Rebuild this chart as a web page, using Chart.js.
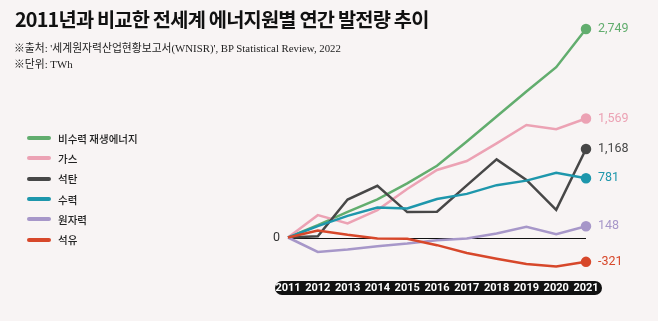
<!DOCTYPE html>
<html>
<head>
<meta charset="utf-8">
<script src="https://cdn.jsdelivr.net/npm/chart.js@4/dist/chart.umd.min.js"></script>
<style>
  html, body { margin: 0; padding: 0; background: #f8f4f4; }
  #wrap { position: relative; width: 658px; height: 321px; overflow: hidden; background: #f8f4f4; }
  #c { position: absolute; left: 0; top: 0; }
  #title { position: absolute; left: 15px; top: 4px; font-family: "Noto Sans CJK KR", sans-serif; font-weight: 700; font-size: 19.8px; letter-spacing: -0.8px; color: #111; white-space: nowrap; }
  .src { position: absolute; left: 14px; font-family: "Liberation Serif", "Noto Sans CJK KR", serif; font-size: 10.8px; color: #222; white-space: nowrap; }
  #legend { position: absolute; left: 27px; top: 128px; font-family: "Noto Sans CJK KR", sans-serif; font-size: 10.5px; font-weight: 500; color: #222; }
  .li { height: 20.3px; display: flex; align-items: center; }
  .sw { width: 24px; height: 4px; border-radius: 2px; margin-right: 7px; }
</style>
</head>
<body>
<div id="wrap">
  <canvas id="c" width="658" height="321"></canvas>
  <div id="title">2011년과 비교한 전세계 에너지원별 연간 발전량 추이</div>
  <div class="src" style="top:39px">※출처: '세계원자력산업현황보고서(WNISR)', BP Statistical Review, 2022</div>
  <div class="src" style="top:55px">※단위: TWh</div>
  <div id="legend"></div>
</div>
<script>
const years = ['2011','2012','2013','2014','2015','2016','2017','2018','2019','2020','2021'];
const seriesNames = ['비수력 재생에너지','가스','석탄','수력','원자력','석유'];
const renewables = [0, 163, 339, 502, 713, 945, 1265, 1595, 1925, 2246, 2749];
const gas        = [0, 295, 185, 361, 640, 890, 1008, 1242, 1483, 1427, 1569];
const coal       = [0, 15, 500, 682, 335, 339, 687, 1030, 760, 365, 1168];
const hydro      = [0, 150, 285, 394, 383, 508, 575, 690, 750, 853, 781];
const nuclear    = [0, -190, -158, -114, -80, -35, -12, 53, 141, 42, 148];
const oil        = [0, 92, 35, -13, -18, -101, -205, -280, -350, -383, -321];
const colors = ['#62ad6e', '#eca2b4', '#474747', '#1e97ac', '#a797c9', '#d7472a'];

const seriesData = [renewables, gas, coal, hydro, nuclear, oil];

const legendEl = document.getElementById('legend');
seriesNames.forEach((n, i) => {
  const d = document.createElement('div');
  d.className = 'li';
  d.innerHTML = '<span class="sw" style="background:' + colors[i] + '"></span><span>' + n + '</span>';
  legendEl.appendChild(d);
});

const decor = {
  id: 'decor',
  beforeDatasetsDraw(chart) {
    const { ctx, chartArea, scales } = chart;
    const y0 = scales.y.getPixelForValue(0);
    ctx.save();
    ctx.strokeStyle = '#111';
    ctx.lineWidth = 1;
    ctx.beginPath();
    ctx.moveTo(chartArea.left, Math.round(y0) + 0.5);
    ctx.lineTo(chartArea.right, Math.round(y0) + 0.5);
    ctx.stroke();
    ctx.fillStyle = '#333';
    ctx.font = '12.5px "Roboto", sans-serif';
    ctx.textAlign = 'right';
    ctx.textBaseline = 'middle';
    ctx.fillText('0', chartArea.left - 8, y0);
    // x label pill
    const x0 = scales.x.getPixelForValue(0);
    const x1 = scales.x.getPixelForValue(years.length - 1);
    const top = 281, h = 14;
    ctx.fillStyle = '#111';
    ctx.beginPath();
    ctx.roundRect(x0 - 13, top, (x1 + 16) - (x0 - 13), h, 7);
    ctx.fill();
    ctx.fillStyle = '#fff';
    ctx.font = 'bold 11px "Roboto", sans-serif';
    ctx.textAlign = 'center';
    years.forEach((yr, i) => {
      ctx.fillText(yr, scales.x.getPixelForValue(i), top + h / 2 + 0.5);
    });
    ctx.restore();
  },
  afterDatasetsDraw(chart) {
    const { ctx } = chart;
    ctx.save();
    ctx.font = '12.5px "Roboto", sans-serif';
    ctx.textAlign = 'left';
    ctx.textBaseline = 'middle';
    chart.data.datasets.forEach((ds, i) => {
      const meta = chart.getDatasetMeta(i);
      const p = meta.data[meta.data.length - 1];
      const v = ds.data[ds.data.length - 1];
      ctx.fillStyle = ds.borderColor;
      ctx.fillText(v.toLocaleString('en-US'), p.x + 12, p.y);
    });
    ctx.restore();
  }
};

new Chart(document.getElementById('c'), {
  type: 'line',
  data: {
    labels: years,
    datasets: seriesNames.map((n, i) => ({
      label: n,
      data: seriesData[i],
      borderColor: colors[i],
      backgroundColor: colors[i],
      pointBackgroundColor: colors[i],
      borderWidth: 2.5,
      tension: 0,
      clip: false,
      pointRadius: ctx => ctx.dataIndex === years.length - 1 ? 4 : 0,
      pointHoverRadius: 0
    })).reverse()
  },
  options: {
    responsive: false,
    animation: false,
    devicePixelRatio: 1,
    layout: { padding: { left: 288, right: 72, top: 10, bottom: 38 } },
    plugins: { legend: { display: false }, tooltip: { enabled: false }, title: { display: false } },
    scales: {
      x: { type: 'category', display: false, offset: false },
      y: { display: false, min: -600, max: 3000 }
    }
  },
  plugins: [decor]
});
</script>
</body>
</html>
